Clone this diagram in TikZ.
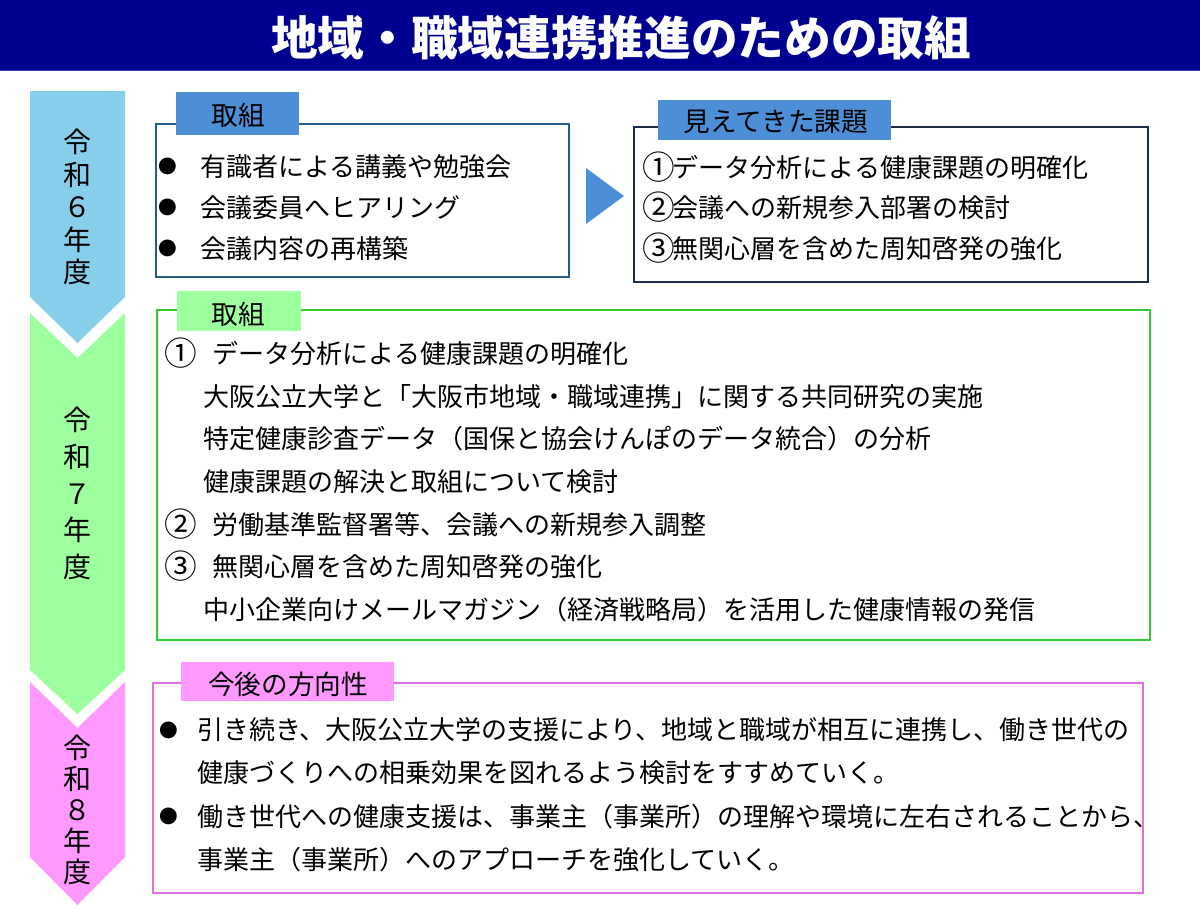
\documentclass[tikz,border=0pt]{standalone}
\usepackage{fontspec}
\setmainfont{Noto Sans CJK JP}
\usepackage{tikz}
\definecolor{titlenavy}{HTML}{000090}
\definecolor{titleline}{HTML}{3A3AB0}
\definecolor{skyarrow}{HTML}{87CEEB}
\definecolor{greenarrow}{HTML}{9EFF9E}
\definecolor{pinkarrow}{HTML}{FF99FF}
\definecolor{tabblue}{HTML}{4C8FD6}
\definecolor{boxteal}{HTML}{245D85}
\definecolor{boxnavy}{HTML}{1C2B4A}
\definecolor{boxgreen}{HTML}{33CC33}
\definecolor{boxpink}{HTML}{E070E0}
\newcommand{\cnum}[1]{\raisebox{-2pt}{\fontsize{24.5}{25}\selectfont #1}}

\begin{document}
\begin{tikzpicture}[x=0.75pt,y=-0.75pt,
  body/.style={anchor=base west,inner sep=0pt,font=\fontsize{19.5}{23}\selectfont},
  dot/.style={inner sep=0pt,font=\fontsize{14}{14}\selectfont},
  tabtext/.style={inner sep=0pt,font=\fontsize{20}{24}\selectfont},
  frame/.style={line width=1.5pt}]
  \useasboundingbox (0,0) rectangle (1200,915);

  % title bar
  \fill[titlenavy] (0,0) rectangle (1200,71);
  \draw[titleline,line width=1.2pt] (0,70.5) -- (1200,70.5);
  \node[text=white,inner sep=0pt,font=\fontsize{35}{40}\selectfont\bfseries] (title) at (621,38) {地域・職域連携推進のための取組};

  % year arrows
  \fill[skyarrow] (30,91) -- (125,91) -- (125,297) -- (77.5,343) -- (30,297) -- cycle;
  \fill[greenarrow] (30,313) -- (77.5,358) -- (125,313) -- (125,670) -- (77.5,714) -- (30,670) -- cycle;
  \fill[pinkarrow] (30,682) -- (77.5,728) -- (125,682) -- (125,857) -- (77.5,905) -- (30,857) -- cycle;
  \node[align=center,inner sep=0pt,font=\fontsize{21}{24.4}\selectfont] (r6) at (77.5,207) {令\\和\\６\\年\\度};
  \node[align=center,inner sep=0pt,font=\fontsize{21}{27.6}\selectfont] (r7) at (77.5,493.5) {令\\和\\７\\年\\度};
  \node[align=center,inner sep=0pt,font=\fontsize{21}{23.3}\selectfont] (r8) at (77.5,810) {令\\和\\８\\年\\度};

  % R6: actions
  \draw[boxteal,frame] (156,124) rectangle (569,277);
  \fill[tabblue] (176,92) rectangle (299,135);
  \node[tabtext] (tab6) at (238,115) {取組};
  \node[dot] (d61) at (168,166) {●};
  \node[dot] (d62) at (168,207) {●};
  \node[dot] (d63) at (168,248) {●};
  \node[body] (a61) at (200,176) {有識者による講義や勉強会};
  \node[body] (a62) at (200,217) {会議委員へヒアリング};
  \node[body] (a63) at (200,258) {会議内容の再構築};

  \fill[tabblue] (586,168) -- (624,196) -- (586,224) -- cycle;

  % R6: issues found
  \draw[boxnavy,frame] (634,127) rectangle (1148,282);
  \fill[tabblue] (658,100) rectangle (891,140);
  \node[tabtext] (tabk) at (776,122) {見えてきた課題};
  \node[body] (k1) at (642,177) {\cnum{①}\kern-1.5pt データ分析による健康課題の明確化};
  \node[body] (k2) at (642,217) {\cnum{②}\kern-1.5pt 会議への新規参入部署の検討};
  \node[body] (k3) at (642,258) {\cnum{③}\kern-1.5pt 無関心層を含めた周知啓発の強化};

  % R7: actions
  \draw[boxgreen,frame] (157,310) rectangle (1150,640);
  \fill[greenarrow] (177,291) rectangle (301,331);
  \node[tabtext] (tab7) at (238,314) {取組};
  \node[body] (g1) at (164,363) {\makebox[36.5pt][l]{\cnum{①}}データ分析による健康課題の明確化};
  \node[body] (g2) at (203,406) {大阪公立大学と「大阪市地域・職域連携」に関する共同研究の実施};
  \node[body] (g3) at (203,448) {特定健康診査データ（国保と協会けんぽのデータ統合）の分析};
  \node[body] (g4) at (203,491) {健康課題の解決と取組について検討};
  \node[body] (g5) at (164,534) {\makebox[36.5pt][l]{\cnum{②}}労働基準監督署等、会議への新規参入調整};
  \node[body] (g6) at (164,576) {\makebox[36.5pt][l]{\cnum{③}}無関心層を含めた周知啓発の強化};
  \node[body] (g7) at (203,619) {中小企業向けメールマガジン（経済戦略局）を活用した健康情報の発信};

  % R8: direction
  \draw[boxpink,frame] (153,683) rectangle (1143,893);
  \fill[pinkarrow] (181,662) rectangle (394,701);
  \node[tabtext] (tab8) at (288,684) {今後の方向性};
  \node[dot] (d81) at (169,730) {●};
  \node[dot] (d82) at (169,816) {●};
  \node[body] (p1) at (197,739) {引き続き、大阪公立大学の支援により、地域と職域が相互に連携し、働き世代の};
  \node[body] (p2) at (197,782) {健康づくりへの相乗効果を図れるよう検討をすすめていく。};
  \node[body] (p3) at (197,826) {働き世代への健康支援は、事業主（事業所）の理解や環境に左右されることから、};
  \node[body] (p4) at (197,869) {事業主（事業所）へのアプローチを強化していく。};
\end{tikzpicture}
\end{document}
